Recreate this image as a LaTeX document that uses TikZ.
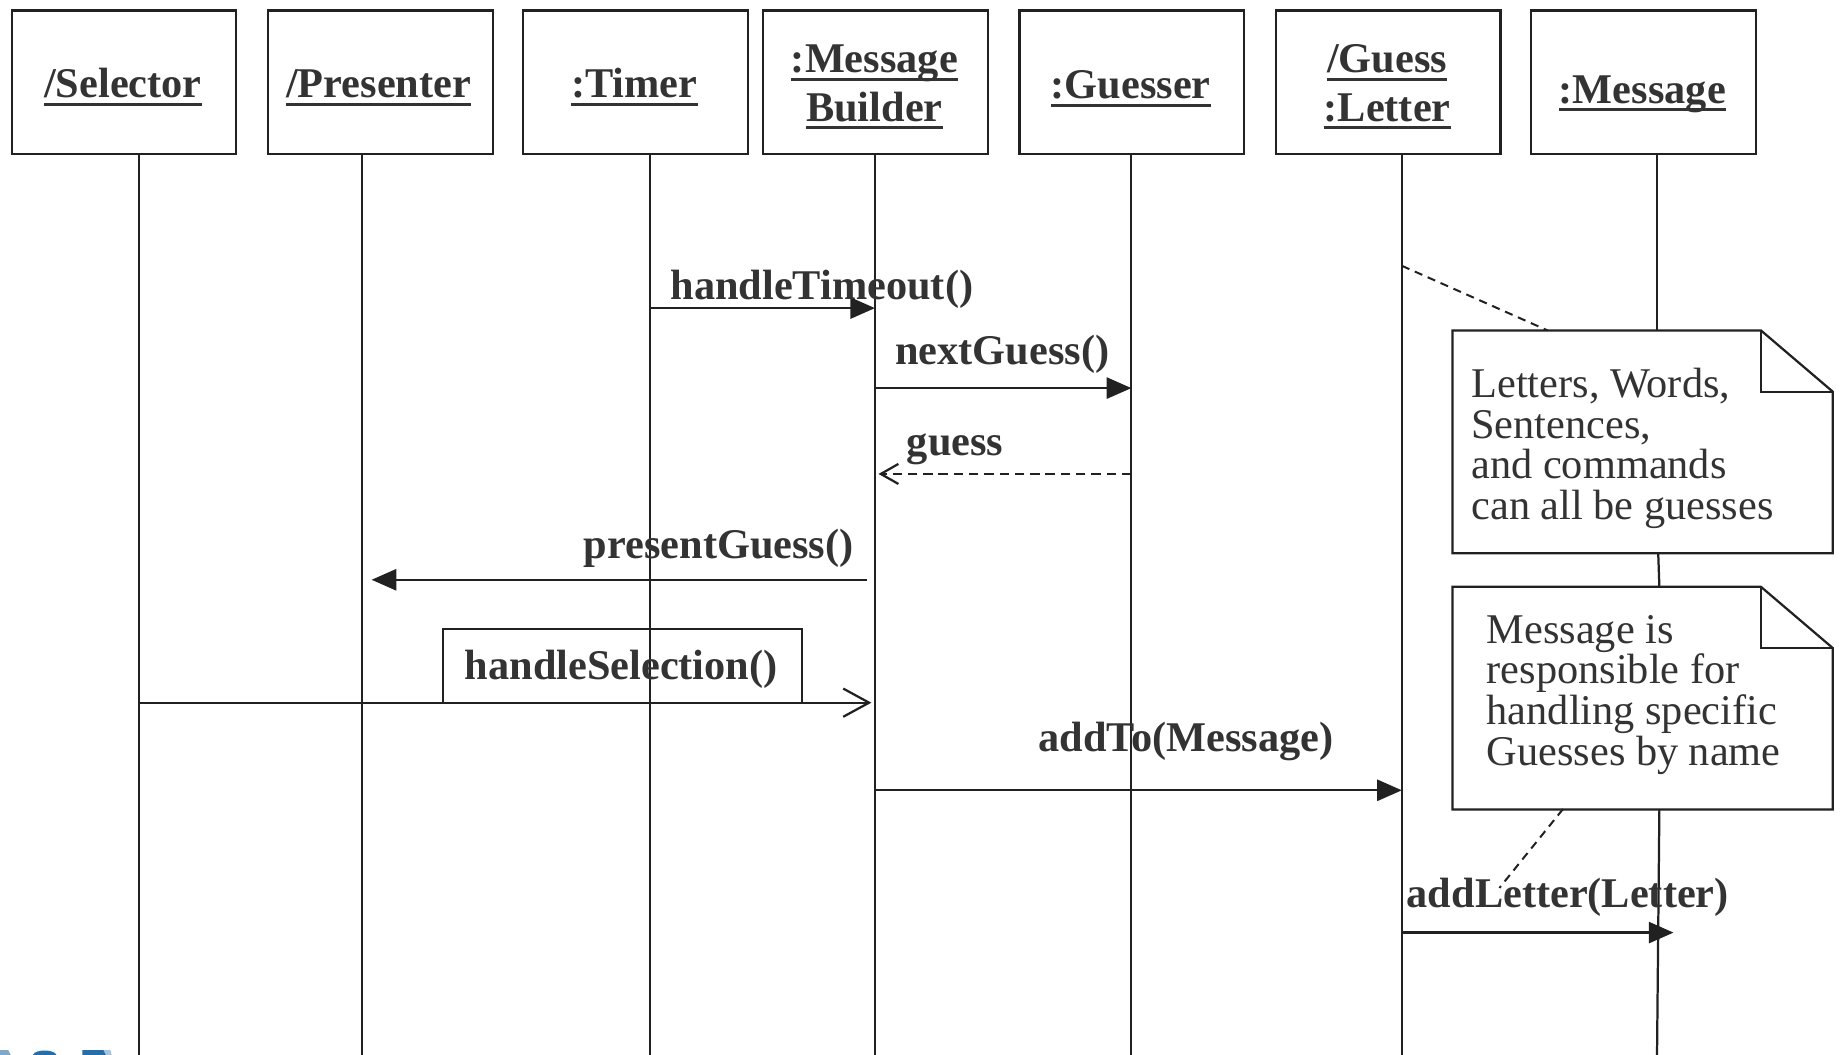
\documentclass[tikz,border=0pt]{standalone}
\usepackage{fontspec}
\setmainfont{Liberation Serif}
\usetikzlibrary{arrows.meta,calc}
\definecolor{ink}{gray}{0.13}
\definecolor{txt}{gray}{0.2}
\definecolor{logoblue}{RGB}{38,110,170}
% underlined object name with a heavy rule
\newcommand\ulbox[1]{\setbox0\hbox{#1}\leavevmode\rlap{\rule[-6.8pt]{\wd0}{2.6pt}}\box0}
\begin{document}
\begin{tikzpicture}[x=1pt,y=-1pt,
  obj/.style={draw=ink, line width=1.9pt, minimum width=191pt, minimum height=122pt, inner sep=0pt, anchor=north west},
  objtext/.style={font=\fontsize{36}{41}\selectfont\bfseries, text=txt, inner sep=0pt, anchor=base},
  lbl/.style={font=\fontsize{36}{41}\selectfont\bfseries, text=txt, inner sep=0pt, anchor=base west},
  notetext/.style={font=\fontsize{36}{34.5}\selectfont, text=txt, inner sep=0pt, anchor=base west},
  life/.style={draw=ink, line width=1.9pt},
  call/.style={draw=ink, line width=1.9pt, -{Triangle[length=21pt,width=18pt]}},
  ret/.style={draw=ink, line width=1.9pt, dash pattern=on 8pt off 5pt, -{Straight Barb[length=15pt,width=17pt]}},
  signal/.style={draw=ink, line width=1.9pt, -{Straight Barb[length=22pt,width=24pt]}},
  noteline/.style={draw=ink, line width=1.7pt, dash pattern=on 7pt off 5pt},
  notearea/.style={draw=none, minimum width=323pt, minimum height=189pt, inner sep=0pt, anchor=north west},
  noteframe/.style={draw=ink, fill=white, line width=1.9pt, line join=miter}
]
\useasboundingbox (0,0) rectangle (1568,897);

% ---- object boxes ----
\node[obj] (sel) at (9,8) {};
\node[obj] (pre) at (227,8) {};
\node[obj] (tim) at (444,8) {};
\node[obj] (mb)  at (648,8) {};
\node[obj] (gsr) at (866,8) {};
\node[obj] (gl)  at (1084,8) {};
\node[obj] (msg) at (1301,8) {};

\node[objtext] (seltxt) at (104.5,83) {\ulbox{/Selector}};
\node[objtext] (pretxt) at (322,83) {\ulbox{/Presenter}};
\node[objtext] (timtxt) at (539.5,83) {\ulbox{:Timer}};
\node[objtext] (mbtxt)  at (743.5,62) {\parbox[t]{190pt}{\centering\ulbox{:Message}\\\ulbox{Builder}}};
\node[objtext] (gsrtxt) at (961.5,84) {\ulbox{:Guesser}};
\node[objtext] (gltxt)  at (1179.5,62) {\parbox[t]{190pt}{\centering\ulbox{/Guess}\\\ulbox{:Letter}}};
\node[objtext] (msgtxt) at (1396.5,88) {\ulbox{:Message}};

% ---- lifelines ----
\coordinate (selx) at (118,897);
\coordinate (prex) at (308,897);
\coordinate (timx) at (553,897);
\coordinate (mbx)  at (744,897);
\coordinate (gsrx) at (962,897);
\coordinate (glx)  at (1192,897);
\draw[life] (sel.south -| selx) -- (selx);
\draw[life] (pre.south -| prex) -- (prex);
\draw[life] (tim.south -| timx) -- (timx);
\draw[life] (mb.south -| mbx) -- (mbx);
\draw[life] (gsr.south -| gsrx) -- (gsrx);
\draw[life] (gl.south -| glx) -- (glx);

% ---- notes ----
\node[notearea] (note1) at (1235,281) {};
\node[notearea] (note2) at (1235,499) {};

% Message lifeline, interrupted by the notes
\coordinate (msgx) at (1409,897);
\draw[life] (msg.south -| msgx) -- (note1.north -| msgx);
\draw[life] (1410,470) -- (1411,499);
\draw[life] (1411,688) -- (msgx);

\foreach \n in {note1,note2}{
  \draw[noteframe] (\n.north west) -- ([xshift=-61pt]\n.north east)
    -- ([yshift=-52pt]\n.north east) -- (\n.south east) -- (\n.south west) -- cycle;
  \draw[draw=ink, line width=1.9pt] ([xshift=-61pt]\n.north east)
    -- ([xshift=-61pt,yshift=-52pt]\n.north east) -- ([yshift=-52pt]\n.north east);
}
\node[notetext] (n1txt) at (1251,338) {\parbox[t]{300pt}{\raggedright Letters, Words,\\Sentences,\\and commands\\can all be guesses}};
\node[notetext] (n2txt) at (1264,547) {\parbox[t]{300pt}{\raggedright Message is\\responsible for\\handling specific\\Guesses by name}};

% note anchors
\coordinate (glnote) at (1192,226);
\coordinate (n1top) at (1316,281);
\coordinate (n2bot) at (1329,688);
\coordinate (n2end) at (1275,755);
\draw[noteline] (glnote) -- (n1top);
\draw[noteline] (n2bot) -- (n2end);

% ---- messages ----
\coordinate (tm1) at (553,262);  \coordinate (mb1) at (744,262);
\draw[call] (tm1) -- (mb1);
\node[lbl] (m1) at (570,255) {handleTimeout()};

\coordinate (mb2) at (744,330);  \coordinate (gs2) at (962,330);
\draw[call] (mb2) -- (gs2);
\node[lbl] (m2) at (761,310) {nextGuess()};

\coordinate (gs3) at (962,403);  \coordinate (mb3) at (747,403);
\draw[ret] (gs3) -- (mb3);
\node[lbl] (m3) at (771,387) {guess};

\coordinate (mb4) at (737,493);  \coordinate (pr4) at (316,493);
\draw[call] (mb4) -- (pr4);
\node[lbl, anchor=base east] (m4) at (726,475) {presentGuess()};

\coordinate (se5) at (118,597.5);  \coordinate (mb5) at (741,597.5);
\draw[signal] (se5) -- (mb5);
\node[draw=ink, line width=1.9pt, minimum width=305pt, minimum height=63pt, inner sep=0pt, anchor=north west] (hsbox) at (376,534) {};
\node[lbl] (m5) at (395,578) {handleSelection()};

\coordinate (mb6) at (744,672);  \coordinate (gl6) at (1192,672);
\draw[call] (mb6) -- (gl6);
\node[lbl] (m6) at (883,639) {addTo(Message)};

\coordinate (gl7) at (1192,793);  \coordinate (ms7) at (1423,793);
\draw[call] (gl7) -- (ms7);
\node[lbl] (m7) at (1196,772) {addLetter(Letter)};

% ---- cut-off mark at the lower left edge ----
\fill[logoblue!60] (0,893) -- (7,893) -- (9,897) -- (0,897) -- cycle;
\fill[logoblue] (28,897) .. controls (30,892) and (46,892) .. (48,897) -- cycle;
\fill[logoblue] (70,893) -- (90,893) -- (92,897) -- (70,897) -- cycle;
\fill[logoblue!40] (88,893) -- (94,893) -- (95,897) -- (90,897) -- cycle;
\end{tikzpicture}
\end{document}
